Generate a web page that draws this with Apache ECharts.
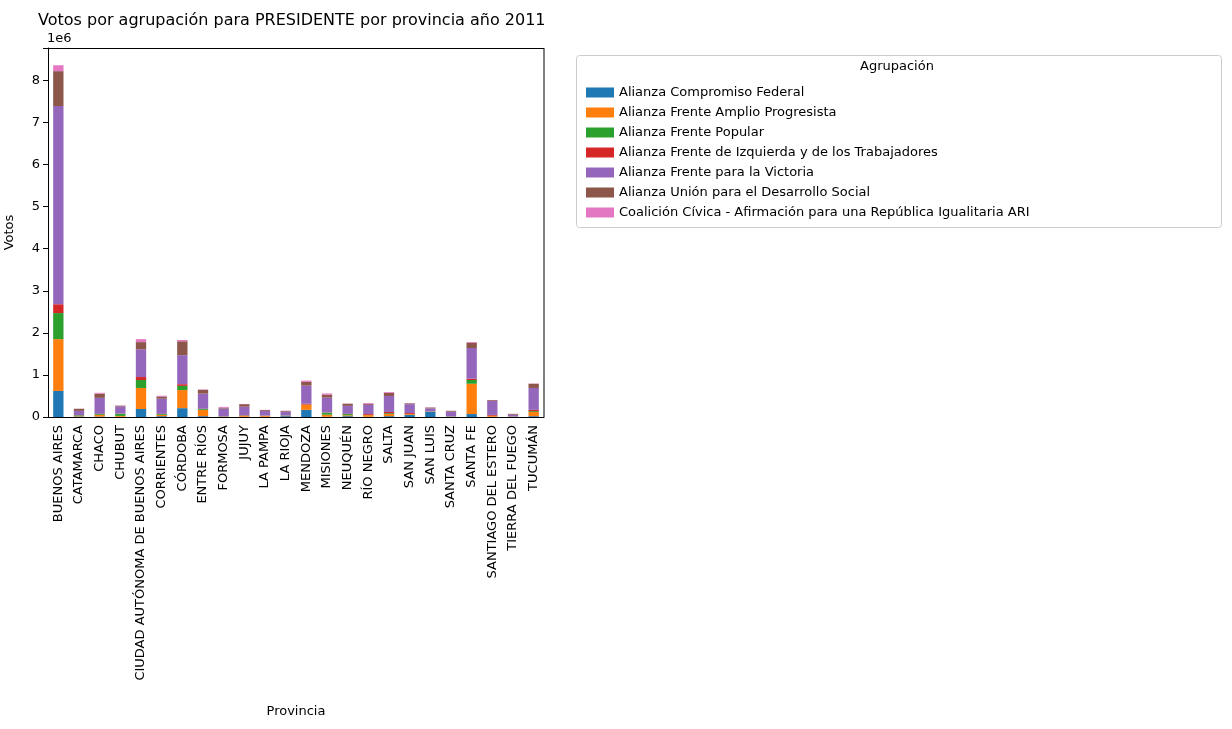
<!DOCTYPE html>
<html>
<head>
<meta charset="utf-8">
<script src="https://cdn.jsdelivr.net/npm/echarts@6/dist/echarts.min.js"></script>
<style>html,body{margin:0;padding:0;background:#fff}#chart{width:1232px;height:729px}</style>
</head>
<body>
<div id="chart"></div>
<script>
// provincias
var provincias = ['BUENOS AIRES', 'CATAMARCA', 'CHACO', 'CHUBUT', 'CIUDAD AUTÓNOMA DE BUENOS AIRES', 'CORRIENTES',
    'CÓRDOBA', 'ENTRE RÍOS', 'FORMOSA', 'JUJUY', 'LA PAMPA', 'LA RIOJA', 'MENDOZA', 'MISIONES', 'NEUQUÉN',
    'RÍO NEGRO', 'SALTA', 'SAN JUAN', 'SAN LUIS', 'SANTA CRUZ', 'SANTA FE', 'SANTIAGO DEL ESTERO',
    'TIERRA DEL FUEGO', 'TUCUMÁN'];

var agrupaciones = ['Alianza Compromiso Federal', 'Alianza Frente Amplio Progresista', 'Alianza Frente Popular',
    'Alianza Frente de Izquierda y de los Trabajadores', 'Alianza Frente para la Victoria',
    'Alianza Unión para el Desarrollo Social', 'Coalición Cívica - Afirmación para una República Igualitaria ARI'];

var colores = ['#1f77b4', '#ff7f0e', '#2ca02c', '#d62728', '#9467bd', '#8c564b', '#e377c2'];

// votos (millones) por agrupación
var compromisoFederal = [0.62, 0.01, 0.01, 0.005, 0.19, 0.02, 0.21, 0.02, 0.005, 0.005, 0.005, 0.02, 0.17, 0.005, 0.02, 0.005, 0.02, 0.05, 0.12, 0.005, 0.07, 0.005, 0.005, 0.02];
var frenteAmplio = [1.23, 0.01, 0.04, 0.02, 0.50, 0.03, 0.43, 0.15, 0.005, 0.02, 0.02, 0.005, 0.12, 0.05, 0.02, 0.04, 0.05, 0.02, 0.005, 0.005, 0.72, 0.02, 0.005, 0.10];
var frentePopular = [0.62, 0.02, 0.02, 0.05, 0.19, 0.02, 0.10, 0.02, 0.005, 0.01, 0.005, 0.01, 0.005, 0.05, 0.03, 0.005, 0.02, 0.005, 0.005, 0.005, 0.09, 0.005, 0.002, 0.02];
var fit = [0.21, 0.005, 0.005, 0.005, 0.07, 0.005, 0.04, 0.005, 0.005, 0.01, 0.005, 0.002, 0.02, 0.005, 0.005, 0.02, 0.03, 0.02, 0.005, 0.002, 0.03, 0.02, 0.002, 0.03];
var frenteVictoria = [4.71, 0.10, 0.38, 0.17, 0.66, 0.36, 0.69, 0.36, 0.18, 0.20, 0.11, 0.09, 0.43, 0.35, 0.19, 0.22, 0.38, 0.21, 0.07, 0.11, 0.73, 0.33, 0.04, 0.52];
var uds = [0.83, 0.05, 0.10, 0.02, 0.17, 0.05, 0.33, 0.09, 0.02, 0.06, 0.02, 0.02, 0.09, 0.07, 0.05, 0.02, 0.07, 0.02, 0.02, 0.02, 0.12, 0.02, 0.02, 0.10];
var ari = [0.14, 0.003, 0.02, 0.005, 0.07, 0.02, 0.03, 0.01, 0.02, 0.005, 0.005, 0.002, 0.03, 0.03, 0.005, 0.02, 0.02, 0.005, 0.005, 0.002, 0.02, 0.005, 0.002, 0.005];

var valores = [compromisoFederal, frenteAmplio, frentePopular, fit, frenteVictoria, uds, ari];
var yTicks = [0, 1, 2, 3, 4, 5, 6, 7, 8];

var chart = echarts.init(document.getElementById('chart'));
var series = agrupaciones.map(function (nombre, i) {
    return {
        name: nombre,
        type: 'bar',
        stack: 'total',
        barCategoryGap: '50%',
        itemStyle: {color: colores[i]},
        data: valores[i]
    };
});

chart.setOption({
    animation: false,
    textStyle: {fontFamily: 'DejaVu Sans'},
    title: {
        text: 'Votos por agrupación para PRESIDENTE por provincia año 2011',
        left: 33, top: 8,
        textStyle: {fontSize: 16, fontWeight: 'normal', color: '#000', fontFamily: 'DejaVu Sans'}
    },
    graphic: [
        {type: 'rect', shape: {x: 576.5, y: 55.5, width: 645, height: 172, r: 3},
            style: {fill: '#fff', stroke: '#ccc', lineWidth: 1}, z: 0},
        {type: 'text', left: 860, top: 60,
            style: {text: 'Agrupación', fontSize: 13, fill: '#000', fontFamily: 'DejaVu Sans'}, z: 10},
        {type: 'text', left: 47, top: 32,
            style: {text: '1e6', fontSize: 13, fill: '#000', fontFamily: 'DejaVu Sans'}, z: 10}
    ],
    legend: {
        orient: 'vertical',
        left: 581, top: 81,
        itemWidth: 28, itemHeight: 10, itemGap: 7,
        icon: 'rect',
        textStyle: {fontSize: 13, color: '#000', fontFamily: 'DejaVu Sans'},
        data: agrupaciones,
        z: 20
    },
    grid: {left: 48, right: 688, top: 48, bottom: 312, containLabel: false},
    xAxis: {
        type: 'category',
        data: provincias,
        name: 'Provincia',
        nameLocation: 'middle',
        nameGap: 288,
        nameTextStyle: {fontSize: 13, color: '#000'},
        axisLine: {lineStyle: {color: '#000'}},
        axisTick: {alignWithLabel: true, lineStyle: {color: '#000'}},
        axisLabel: {rotate: 90, interval: 0, fontSize: 13, color: '#000'}
    },
    yAxis: {
        type: 'value',
        min: 0, max: 8.77, interval: 1,
        name: 'Votos',
        nameLocation: 'middle',
        nameGap: 32,
        nameTextStyle: {fontSize: 13, color: '#000'},
        axisLine: {show: true, lineStyle: {color: '#000'}},
        axisTick: {show: true, lineStyle: {color: '#000'}},
        splitLine: {show: false},
        axisLabel: {
            fontSize: 13, color: '#000',
            formatter: function (v) { return yTicks.indexOf(v) >= 0 ? String(v) : ''; }
        }
    },
    series: series.concat([{
        type: 'line', data: [], markLine: {silent: true, symbol: 'none',
            lineStyle: {color: '#000', type: 'solid', width: 1}, label: {show: false},
            data: [{yAxis: 8.77}]}
    }])
});
// borde derecho
chart.setOption({graphic: chart.getOption().graphic[0].elements.concat([
    {type: 'line', shape: {x1: 544, y1: 48, x2: 544, y2: 417}, style: {stroke: '#000', lineWidth: 1}}
])});
</script>
</body>
</html>
